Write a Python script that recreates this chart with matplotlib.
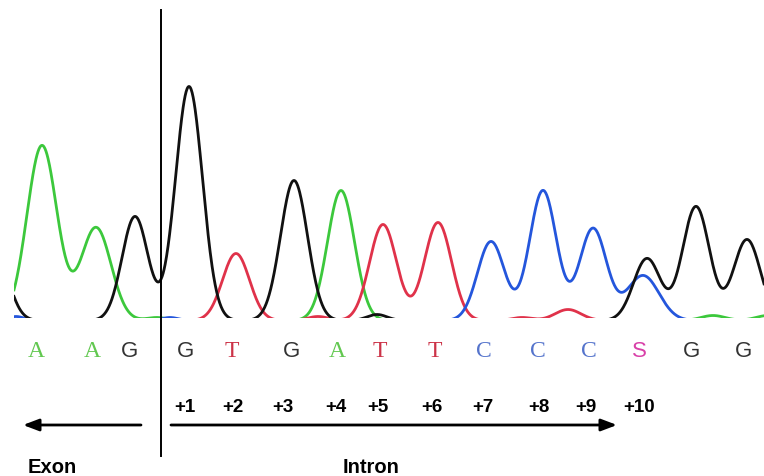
import numpy as np
import matplotlib
matplotlib.use('Agg')
import matplotlib.pyplot as plt
from matplotlib.patches import Rectangle

# ---- data (pixel-space chromatogram peaks) ----
green_pos = [42, 96, 157, 341, 713, 768]
green_h = [175, 93, 3, 130, 5, 5]
green_w = [15, 15, 10, 13.5, 12, 12]

black_pos = [-5, 135, 189, 294, 377, 647, 696, 747]
black_h = [70, 104, 234, 140, 6, 62, 114, 81]
black_w = [13, 13, 13.5, 13.5, 10, 13.5, 13.5, 13.5]

red_pos = [236, 318, 383, 438, 522, 568]
red_h = [67, 4, 96, 98, 3, 11]
red_w = [13.5, 10, 13.5, 13.5, 10, 13]

blue_pos = [16, 170, 491, 543, 593, 643]
blue_h = [4, 3, 79, 130, 92, 45]
blue_w = [8, 8, 13.5, 13.5, 13.5, 16]

bases = ['A', 'A', 'G', 'G', 'T', 'G', 'A', 'T', 'T', 'C', 'C', 'C', 'S', 'G', 'G']
base_x = [36, 92, 130, 185, 232, 291, 337, 380, 435, 484, 538, 589, 639, 691, 743]

pos_labels = ['+1', '+2', '+3', '+4', '+5', '+6', '+7', '+8', '+9', '+10']
pos_x = [185, 233, 283, 336, 378, 432, 483, 539, 586, 639]

W, H = 764, 477
BASE = 321.5

fig = plt.figure(figsize=(W / 100, H / 100), dpi=100)
ax = fig.add_axes([0, 0, 1, 1])
ax.set_xlim(0, W)
ax.set_ylim(H, 0)
ax.axis('off')

x = np.linspace(14, W, 1500)


def trace(pos, h, w):
    y = np.zeros_like(x)
    for p, hh, ww in zip(pos, h, w):
        y += hh * np.exp(-(x - p) ** 2 / (2 * ww ** 2))
    return BASE - y


clip = Rectangle((14, 0), W - 14, 318.5, transform=ax.transData)
for pos, h, w, col in [
    (green_pos, green_h, green_w, '#3cc83c'),
    (red_pos, red_h, red_w, '#e0324a'),
    (blue_pos, blue_h, blue_w, '#2456dc'),
    (black_pos, black_h, black_w, '#111111'),
]:
    ln, = ax.plot(x, trace(pos, h, w), color=col, lw=2.0, solid_joinstyle='round')
    ln.set_clip_path(clip)

letter_color = {'A': '#62c850', 'G': '#333333', 'T': '#cc3348', 'C': '#5574cc', 'S': '#d840a8'}
letter_font = {'A': 'Liberation Serif', 'T': 'Liberation Serif', 'C': 'Liberation Serif',
               'S': 'Liberation Sans', 'G': 'Liberation Sans'}
letter_size = {'A': 17, 'T': 17, 'C': 17, 'S': 16, 'G': 16}
for b, bx in zip(bases, base_x):
    ax.text(bx, 357, b, color=letter_color[b], family=letter_font[b],
            fontsize=letter_size[b], ha='center', va='baseline')

for lab, px in zip(pos_labels, pos_x):
    ax.text(px, 412, lab, family='Liberation Sans', fontweight='bold',
            fontsize=13.5, ha='center', va='baseline', color='black')

ax.text(28, 473, 'Exon', family='Liberation Sans', fontweight='bold',
        fontsize=14.5, ha='left', va='baseline')
ax.text(343, 473, 'Intron', family='Liberation Sans', fontweight='bold',
        fontsize=14.5, ha='left', va='baseline')

ax.plot([161, 161], [11, 457], color='black', lw=1.4)

ap = dict(arrowstyle='-|>,head_length=0.95,head_width=0.36', lw=2, color='black',
          mutation_scale=10, shrinkA=0, shrinkB=0)
ax.annotate('', xy=(23, 426), xytext=(141, 426), arrowprops=ap)
ax.annotate('', xy=(617, 426), xytext=(171, 426), arrowprops=ap)

fig.savefig('out.png', dpi=100)
